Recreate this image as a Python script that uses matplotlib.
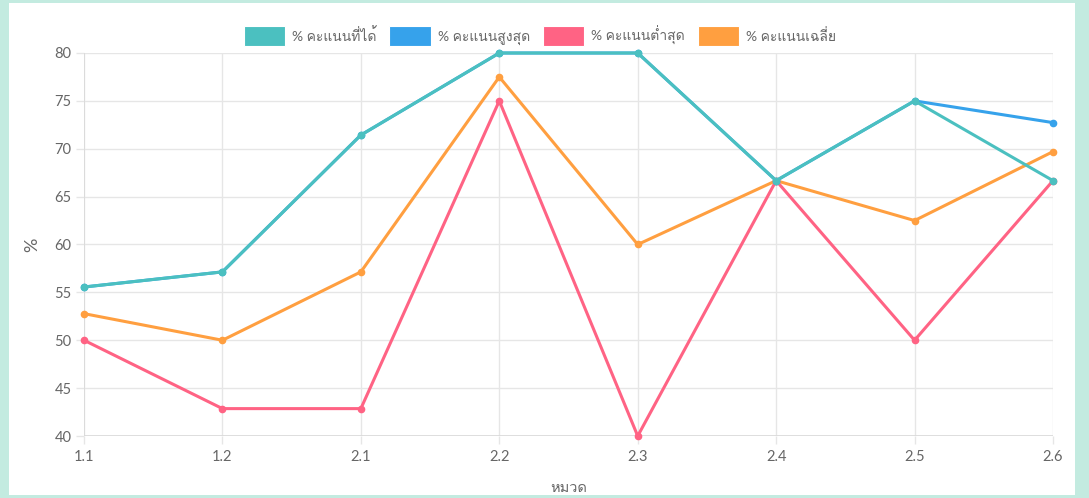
import matplotlib
matplotlib.use('Agg')
import matplotlib.pyplot as plt
from matplotlib import font_manager
from matplotlib.ft2font import FT2Font
from matplotlib.patches import Rectangle

# data
categories = ['1.1', '1.2', '2.1', '2.2', '2.3', '2.4', '2.5', '2.6']
got = [55.56, 57.14, 71.43, 80, 80, 66.67, 75, 66.67]
highest = [55.56, 57.14, 71.43, 80, 80, 66.67, 75, 72.73]
lowest = [50, 42.86, 42.86, 75, 40, 66.67, 50, 66.67]
average = [52.78, 50, 57.14, 77.5, 60, 66.67, 62.5, 69.7]
labels = ['% คะแนนที่ได้', '% คะแนนสูงสุด', '% คะแนนต่ำสุด', '% คะแนนเฉลี่ย']
colors = ['#4bc0c0', '#36a2eb', '#ff6384', '#ff9f40']


# find something that can draw Thai, if there is anything
thai = None
for f in font_manager.fontManager.ttflist:
    try:
        if FT2Font(f.fname).get_char_index(0x0E04):
            thai = f.name
            break
    except Exception:
        pass
fam = ['Lato', 'DejaVu Sans']
if thai:
    fam = ['Lato', thai, 'DejaVu Sans']
plt.rcParams['font.family'] = fam

W, H = 1089, 498
fig = plt.figure(figsize=(W/100, H/100), dpi=100)
fig.patch.set_facecolor('#c3ebe0')
fig.patches.append(Rectangle((9/W, 3/H), (1075-9)/W, (495-3)/H,
                             transform=fig.transFigure, facecolor='white',
                             edgecolor='none', zorder=-5))

ax = fig.add_axes([84/W, (H-436)/H, (1053-84)/W, (436-53)/H])
ax.set_facecolor('white')
x = range(len(categories))
series = [got, highest, lowest, average]
# first dataset on top, like chart.js
for i in reversed(range(4)):
    ax.plot(x, series[i], color=colors[i], lw=2.2, marker='o', ms=4.5,
            zorder=3 + (4 - i), solid_capstyle='round', clip_on=False)

ax.set_xlim(0, len(categories) - 1)
ax.set_ylim(40, 80)
ax.set_yticks(range(40, 81, 5))
ax.set_xticks(list(x))
ax.set_xticklabels(categories)
ax.grid(True, color='#e6e6e6', lw=1)
ax.set_axisbelow(True)
for s in ax.spines.values():
    s.set_visible(False)
ax.axhline(40, color='#d9d9d9', lw=1.2, zorder=2)
ax.axvline(0, color='#d9d9d9', lw=1.2, zorder=2)
ax.tick_params(colors='#666666', labelsize=10.5, length=6, width=1)
ax.tick_params(axis='x', pad=4, color='#e6e6e6')
ax.tick_params(axis='y', pad=3, color='#e6e6e6')
ax.set_ylabel('%', color='#666666', fontsize=13, labelpad=10)
ax.set_xlabel('หมวด', color='#666666', fontsize=10.5, labelpad=12)

handles = [Rectangle((0, 0), 1, 1, facecolor=c, edgecolor='white', lw=0.8) for c in colors]
fig.legend(handles, labels, loc='center', bbox_to_anchor=(540/W, (H-36)/H),
           ncol=4, frameon=False, fontsize=10, labelcolor='#666666',
           handlelength=3.0, handleheight=1.9, handletextpad=0.5, columnspacing=0.9)

fig.savefig('out.png', dpi=100, facecolor=fig.get_facecolor())
